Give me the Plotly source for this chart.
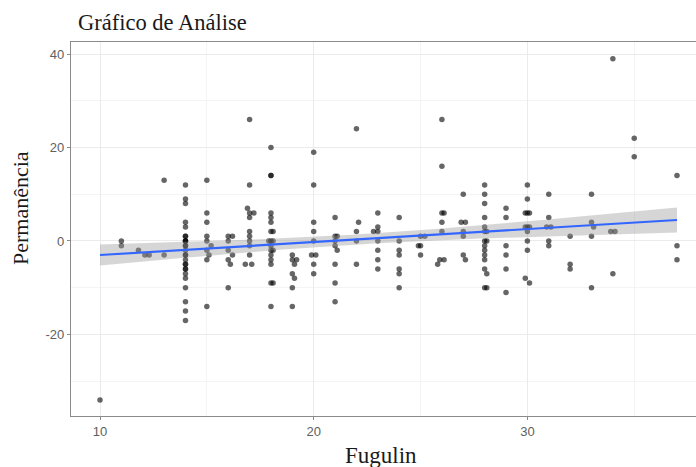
import numpy as np
import plotly.graph_objects as go

# Fugulin score (x) and permanence (y) for each observation
fugulin = (
    [10]
    + [11, 11]
    + [11.8, 12.1, 12.3]
    + [13, 13]
    + [14] * 26
    + [15, 15, 15, 15, 15, 15.2, 15, 15.1, 15, 15]
    + [16, 16.2, 16, 16, 16.2, 16, 16.1, 16]
    + [17, 17, 16.9, 17, 17.2, 17, 17, 17, 17, 17, 17, 16.8, 17.1]
    + [18, 18, 18, 18, 18, 18, 18, 18.1, 18, 18.1, 17.9, 18, 18, 18.1, 18, 18, 18, 18, 18.1, 18]
    + [19, 19.2, 19, 19.1, 19, 19.1, 19, 19]
    + [20, 20, 20, 20, 20, 19.9, 20.1, 20, 20]
    + [21, 21, 21.1, 21, 21, 21.1, 21, 21, 21]
    + [22, 22.1, 22, 22, 22]
    + [23, 23, 22.8, 23, 23, 23, 23, 23]
    + [24, 24, 24, 24, 24, 24, 24]
    + [25, 25.2, 25, 24.9, 25]
    + [26, 26, 26, 26.1, 26, 26, 25.9, 26.1, 25.8]
    + [27, 26.9, 27.1, 27, 27, 27, 27.1]
    + [28, 28, 28, 28, 28, 28, 28.1, 28, 28.1, 28, 28, 28, 28, 28, 28.1, 28, 28.1]
    + [29, 29, 29, 29, 29, 29]
    + [30, 30, 29.9, 30, 30.1, 30, 29.9, 30.1, 30, 30, 30, 29.9, 30.1]
    + [31, 31, 30.9, 31.1, 31, 31]
    + [32, 32, 32]
    + [33, 33, 33.1, 33, 33]
    + [34, 33.9, 34.1, 34]
    + [35, 35]
    + [37, 37, 37]
)

permanencia = (
    [-34]
    + [0, -1]
    + [-2, -3, -3]
    + [13, -3]
    + [12, 9, 8, 4, 3, 1, 1, 0, 0, 0, -1, -1, -2, -3, -3, -4, -5, -5,
       -6, -6, -7, -8, -10, -13, -15, -17]
    + [13, 6, 4, 1, 0, -1, -2, -3, -4, -14]
    + [1, 1, 0, -2, -3, -4, -5, -10]
    + [26, 12, 7, 6, 6, 5, 2, 1, 0, -1, -3, -5, -5]
    + [20, 14, 14, 6, 5, 4, 2, 2, 0, 0, 0, -1, -2, -2, -3, -4, -5, -9, -9, -14]
    + [-3, -4, -4, -5, -7, -8, -10, -14]
    + [19, 12, 4, 2, 0, -3, -3, -5, -7]
    + [5, 1, 1, 0, -1, -2, -5, -9, -13]
    + [24, 4, 2, 0, -5]
    + [6, 3, 2, 2, 0, -2, -4, -6]
    + [5, 0, -2, -3, -6, -7, -10]
    + [1, 1, -1, -1, -3]
    + [26, 16, 6, 6, 4, 2, -4, -4, -5]
    + [10, 4, 4, 2, 1, -3, -4]
    + [12, 10, 8, 5, 3, 2, 2, 0, 0, -1, -2, -3, -4, -6, -7, -10, -10]
    + [7, 5, -1, -3, -6, -11]
    + [12, 9, 6, 6, 6, 3, 3, 3, 2, 0, -2, -8, -9]
    + [10, 5, 3, 3, 0, -1]
    + [1, -5, -6]
    + [10, 4, 3, 1, -10]
    + [39, 2, 2, -7]
    + [22, 18]
    + [14, -1, -4]
)

x_ticks = [10, 20, 30]
y_ticks = [-20, 0, 20, 40]

x = np.asarray(fugulin, dtype=float)
y = np.asarray(permanencia, dtype=float)

# Ordinary least squares fit with a 95% confidence band
n = len(x)
slope, intercept = np.polyfit(x, y, 1)
resid = y - (intercept + slope * x)
s = np.sqrt(np.sum(resid ** 2) / (n - 2))
sxx = np.sum((x - x.mean()) ** 2)
t_crit = 1.972
xs = np.linspace(x.min(), x.max(), 80)
fit = intercept + slope * xs
se = s * np.sqrt(1.0 / n + (xs - x.mean()) ** 2 / sxx)
lo, hi = fit - t_crit * se, fit + t_crit * se

fig = go.Figure()

fig.add_trace(go.Scatter(
    x=x, y=y, mode="markers",
    marker=dict(size=5.5, color="rgba(0,0,0,0.6)", line=dict(width=0)),
    hoverinfo="skip", showlegend=False,
))

fig.add_trace(go.Scatter(
    x=np.concatenate([xs, xs[::-1]]), y=np.concatenate([hi, lo[::-1]]),
    fill="toself", fillcolor="rgba(153,153,153,0.4)", line=dict(width=0),
    mode="lines", hoverinfo="skip", showlegend=False,
))

fig.add_trace(go.Scatter(
    x=xs, y=fit, mode="lines", line=dict(color="#3366FF", width=2.2),
    hoverinfo="skip", showlegend=False,
))

serif = "Liberation Serif, Times New Roman, serif"
sans = "Liberation Sans, Arial, sans-serif"
grid_major = "#ebebeb"
grid_minor = "#f4f4f4"

fig.update_layout(
    width=696, height=467,
    margin=dict(l=71, r=0, t=42, b=51),
    paper_bgcolor="white", plot_bgcolor="white",
    title=dict(text="Gráfico de Análise", x=78 / 696, xanchor="left",
               xref="container", y=1 - 22 / 467, yanchor="middle",
               yref="container", font=dict(family=serif, size=22.5, color="#1a1a1a")),
    xaxis=dict(
        range=[8.643, 37.89], tickvals=x_ticks, ticktext=[str(v) for v in x_ticks],
        showgrid=True, gridcolor=grid_major, gridwidth=1,
        minor=dict(tickvals=[15, 25, 35], showgrid=True, gridcolor=grid_minor, gridwidth=1),
        zeroline=False, showline=True, linecolor="#8a8a8a", linewidth=1.3, mirror=True,
        ticks="outside", ticklen=3, tickcolor="#8a8a8a",
        tickfont=dict(family=sans, size=13, color="#606060"),
    ),
    yaxis=dict(
        range=[-37.45, 42.57], tickvals=y_ticks, ticktext=[str(v) for v in y_ticks],
        showgrid=True, gridcolor=grid_major, gridwidth=1,
        minor=dict(tickvals=[-30, -10, 10, 30], showgrid=True, gridcolor=grid_minor, gridwidth=1),
        zeroline=False, showline=True, linecolor="#8a8a8a", linewidth=1.3, mirror=False,
        ticks="outside", ticklen=3, tickcolor="#8a8a8a",
        tickfont=dict(family=sans, size=13, color="#606060"),
    ),
    annotations=[
        dict(text="Fugulin", xref="paper", yref="paper", x=(381 - 71) / 625,
             y=-(455 - 416) / 374, xanchor="center", yanchor="middle",
             showarrow=False, font=dict(family=serif, size=23, color="#1a1a1a")),
        dict(text="Permanência", xref="paper", yref="paper", x=-(71 - 20) / 625,
             y=(416 - 208) / 374, xanchor="center", yanchor="middle", textangle=-90,
             showarrow=False, font=dict(family=serif, size=22, color="#1a1a1a")),
    ],
)

fig.write_html("out.html")
